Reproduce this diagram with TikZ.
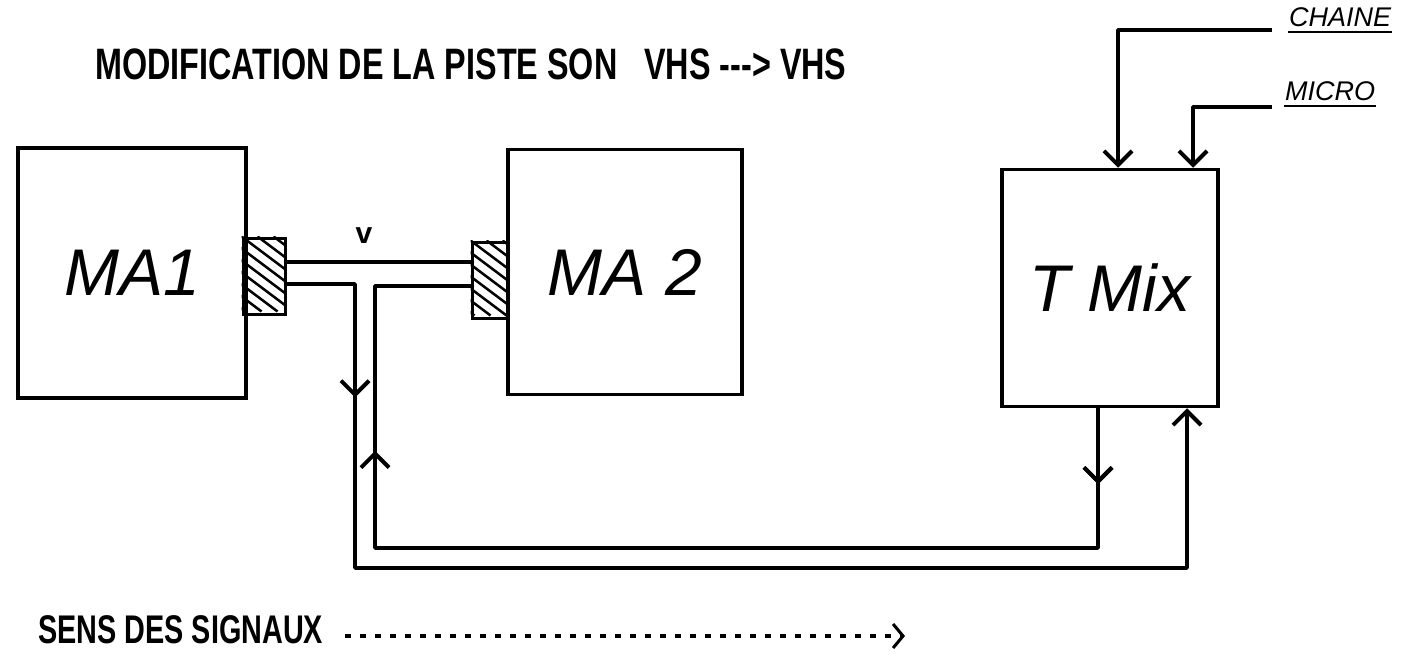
\documentclass[tikz,border=0pt]{standalone}
\usepackage{fontspec}
\setmainfont{Liberation Sans}
\newfontfamily\narrowsans{Liberation Sans}[FakeStretch=0.72]
\newfontfamily\titlesans{Liberation Sans}[FakeStretch=0.735]
\usetikzlibrary{arrows.meta,decorations.markings,positioning}

\tikzset{
  wire/.style={line width=3.5pt, line join=round},
  box/.style={draw, line width=3.5pt, inner sep=0pt},
  plug/.style={draw, line width=3pt, inner sep=0pt, minimum width=42pt},
  hand/.style={font=\itshape\fontsize{66}{66}\selectfont},
  tag/.style={font=\itshape\fontsize{27}{27}\selectfont, inner sep=1pt},
  tip/.style={-{Straight Barb[length=14pt,width=28pt,line width=4pt]}},
  midtip/.style={postaction={decorate}, decoration={markings,
    mark=at position #1 with {\arrow{Straight Barb[length=14pt,width=28pt,line width=4pt]}}}},
}

\begin{document}
\begin{tikzpicture}[x=1pt,y=-1pt]
  \useasboundingbox (0,0) rectangle (1406,666);

  % titre
  \node[anchor=west, inner sep=0pt, font=\titlesans\bfseries\fontsize{44}{44}\selectfont] (titre) at (95,64)
    {MODIFICATION DE LA PISTE SON \ \ VHS {-}{-}{-}> VHS};

  % magnetoscopes et table
  \node[box, minimum width=228pt, minimum height=250pt, hand] (ma1) at (132,273) {MA1};
  \node[box, minimum width=234pt, minimum height=245pt, hand] (ma2) at (625,272) {MA 2};
  \node[box, minimum width=216pt, minimum height=237pt, hand] (tmix) at (1110,288) {T Mix};

  % prises
  \node[plug, minimum height=76pt] (plugA) at (264,276) {};
  \node[plug, minimum width=36pt, minimum height=76pt] (plugB) at (490,280) {};
  \foreach \p in {plugA,plugB} {
    \begin{scope}
      \clip (\p.south west) rectangle (\p.north east);
      \foreach \k in {-112,-96,...,40}
        \draw[line width=2.5pt] ([xshift=\k pt]\p.north west) -- ++(100,75);
    \end{scope}
  }

  % liaisons
  \draw[wire] (plugA.east |- 0,262) -- (plugB.west |- 0,262);
  \node[font=\bfseries\fontsize{30}{30}\selectfont] (v) at (364,236) {v};
  \draw[wire, tip, midtip=182pt] (plugA.east |- 0,284) -- (355,284) -- (355,568) -- (1187,568) -- (tmix.south -| 1187,0);
  \draw[wire, midtip=76pt, postaction={midtip=960pt}] (tmix.south -| 1098,0) -- (1098,548) -- (375,548) -- (375,286) -- (plugB.west |- 0,286);

  % entrees
  \node[tag, anchor=west] (chaine) at (1288,17) {CHAINE};
  \node[tag, anchor=west] (micro) at (1284,91) {MICRO};
  \draw[line width=2pt] ([yshift=-4pt]chaine.south west) -- ([yshift=-4pt]chaine.south east);
  \draw[line width=2pt] ([yshift=-4pt]micro.south west) -- ([yshift=-4pt]micro.south east);
  \draw[wire, tip] (1272,30) -- (1118,30) -- (tmix.north -| 1118,0);
  \draw[wire, tip] (1272,107) -- (1193,107) -- (tmix.north -| 1193,0);

  % legende
  \node[anchor=west, inner sep=0pt, font=\narrowsans\bfseries\fontsize{40}{40}\selectfont] (sens) at (38,630) {SENS DES SIGNAUX};
  \coordinate (debut) at (345,636);
  \coordinate (fin) at (905,636);
  \draw[line width=4.5pt, dash pattern=on 6pt off 9pt, -{Straight Barb[length=10pt,width=24pt,line width=3pt]}]
    (debut) -- (fin);
\end{tikzpicture}
\end{document}
